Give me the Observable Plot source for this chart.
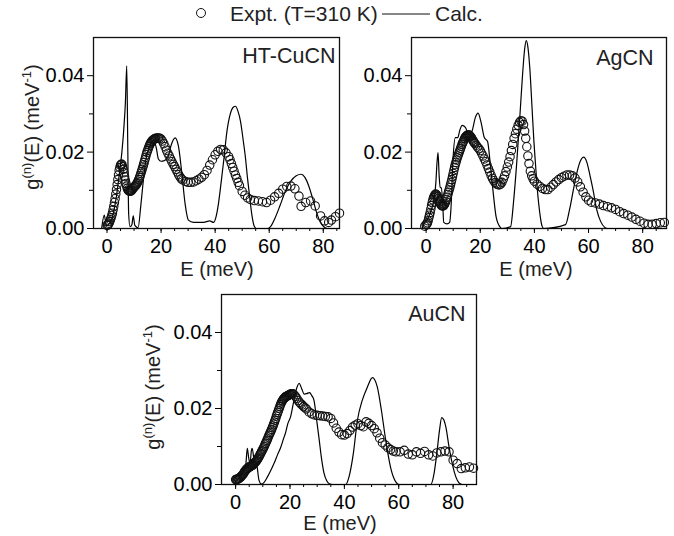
<!DOCTYPE html>
<html><head><meta charset="utf-8">
<script src="https://cdn.jsdelivr.net/npm/d3@7"></script>
<script src="https://cdn.jsdelivr.net/npm/@observablehq/plot@0.6"></script>
<style>
body{margin:0;background:#fff}
#fig{position:relative;width:674px;height:536px;overflow:hidden;font-family:"Liberation Sans",Arial,sans-serif;background:#fff}
#fig > svg{position:absolute}
</style></head><body><div id="fig"></div>
<script>
// ---------- data: [E (meV), g(E) (1/meV)] ----------
const cuExpt = [[0,0.0008],[0.5,0.0011],[1,0.0018],[1.5,0.0028],[2,0.004],[2.5,0.0058],[3,0.0078],[3.5,0.0102],[4,0.0128],[4.5,0.0152],[5,0.0166],[5.5,0.0168],[6,0.0155],[6.5,0.0136],[7,0.0118],[7.5,0.0105],[8,0.0099],[8.5,0.0098],[9,0.0099],[9.5,0.0104],[10,0.0108],[10.5,0.0112],[11,0.0117],[11.5,0.0124],[12,0.0133],[12.5,0.0144],[13,0.0155],[13.5,0.0167],[14,0.018],[14.5,0.0193],[15,0.0204],[15.5,0.0214],[16,0.0222],[16.5,0.0228],[17,0.0232],[17.5,0.0234],[18,0.0236],[18.5,0.0237],[19,0.0237],[19.5,0.0236],[20,0.0234],[20.5,0.0229],[21,0.0222],[21.5,0.0214],[22,0.0205],[22.5,0.0197],[23,0.019],[23.5,0.0182],[24,0.0175],[24.5,0.0168],[25,0.0162],[25.5,0.0155],[26,0.0148],[26.5,0.0141],[27,0.0135],[27.5,0.013],[28,0.0127],[29,0.0123],[30,0.0121],[31,0.0121],[32,0.0122],[33,0.0125],[34,0.0129],[35,0.0134],[36,0.0141],[37,0.0152],[38,0.0166],[39,0.018],[40,0.0193],[41,0.0202],[42,0.0207],[43,0.0206],[44,0.0198],[45,0.0188],[45.5,0.018],[46,0.017],[46.5,0.016],[47,0.015],[47.5,0.014],[48,0.0131],[48.5,0.0121],[49,0.0112],[50,0.0097],[51,0.0087],[52,0.008],[53,0.0076],[54.5,0.0073],[56,0.0072],[57.5,0.007],[59,0.0068],[60.5,0.0074],[62,0.0083],[63.5,0.0092],[65,0.0103],[66.5,0.011],[68,0.0111],[69.5,0.0104],[71,0.0085],[71.8,0.0058],[73.5,0.0068],[75.3,0.0072],[77,0.0059],[79,0.0033],[80.5,0.002],[82,0.0016],[83,0.0022],[84.5,0.0031],[86,0.004]];
const cuExptLow = [[0.25,0.0009],[0.75,0.0014],[1.25,0.0023],[1.75,0.0034],[2.25,0.0049],[2.75,0.0068],[3.25,0.009],[3.75,0.0115],[4.25,0.014],[4.75,0.016],[5.25,0.0168],[5.75,0.0162],[6.25,0.0146],[6.75,0.0127],[7.25,0.0111],[7.75,0.0101],[8.25,0.0098],[8.75,0.0098],[9.25,0.0101],[9.75,0.0106],[10.25,0.011],[10.75,0.0114],[11.25,0.012],[11.75,0.0128],[12.25,0.0138],[12.75,0.0149],[13.25,0.0161],[13.75,0.0173],[14.25,0.0186],[14.75,0.0199],[15.25,0.0209],[15.75,0.0218],[16.25,0.0225],[16.75,0.023],[17.25,0.0233],[17.75,0.0235]];
const cuCalc = [[-2,0],[-1,0.0035],[-0.3,0.0008],[0.5,0.001],[1.5,0.002],[2.5,0.0045],[3.5,0.0085],[4.5,0.014],[5.5,0.02],[6.2,0.026],[6.8,0.033],[7.3,0.0426],[7.7,0.02],[8,0.004],[8.5,0.0005],[9.2,0.001],[9.7,0.0033],[10.3,0.0008],[11.5,0.0002],[12.5,0.006],[13.5,0.013],[14.5,0.0185],[15.5,0.021],[16.5,0.0226],[17.3,0.023],[18.2,0.0212],[19,0.0182],[20,0.0176],[21,0.0177],[22.5,0.0186],[23.8,0.022],[25.2,0.0237],[26.4,0.0216],[27.6,0.015],[28.9,0.0064],[30.1,0.0022],[32,0.0016],[35.7,0.0016],[38,0.002],[39.4,0.0016],[40.3,0.003],[41.2,0.0064],[42.2,0.012],[43.2,0.018],[44.4,0.0256],[45.6,0.03],[46.8,0.0318],[47.5,0.032],[48.4,0.0308],[49.4,0.028],[50.3,0.0235],[51.2,0.0186],[52,0.013],[52.8,0.0081],[53.6,0.0035],[54.4,0.0007],[55.2,0],[59.5,0],[60.5,0.0005],[62,0.0025],[64,0.006],[66,0.0098],[68,0.0124],[70,0.0138],[71.8,0.0142],[73.2,0.0134],[74.6,0.0112],[76,0.008],[77.4,0.0045],[78.8,0.0018],[80.3,0.0004],[81.5,0],[86,0]];

const agExpt = [[-0.5,0.0006],[0,0.001],[0.5,0.0015],[1,0.0028],[1.5,0.0042],[2,0.006],[2.5,0.0075],[3,0.0085],[3.5,0.009],[4,0.0087],[4.5,0.0078],[5,0.0069],[5.5,0.0062],[6,0.0059],[6.5,0.006],[7,0.0066],[7.5,0.0076],[8,0.0089],[8.5,0.0101],[9,0.0114],[9.5,0.0128],[10,0.0144],[10.5,0.016],[11,0.0173],[11.5,0.0185],[12,0.0195],[12.5,0.0205],[13,0.0215],[13.5,0.0224],[14,0.0232],[14.5,0.0239],[15,0.0243],[15.5,0.0245],[16,0.0244],[16.5,0.024],[17,0.0234],[17.5,0.0228],[18,0.0223],[18.5,0.0218],[19,0.0213],[19.5,0.0209],[20,0.0204],[20.5,0.0197],[21,0.019],[21.5,0.0182],[22,0.0175],[22.5,0.0166],[23,0.0157],[23.5,0.0148],[24,0.0139],[24.5,0.0131],[25,0.0125],[25.5,0.012],[26,0.0117],[26.5,0.0115],[27,0.0114],[27.5,0.0116],[28,0.0121],[28.5,0.0129],[29,0.0138],[29.5,0.0149],[30,0.0161],[30.5,0.0174],[31,0.0188],[31.5,0.0204],[32,0.022],[32.5,0.0236],[33,0.0248],[33.5,0.026],[34,0.027],[34.5,0.0278],[35,0.0282],[35.5,0.0281],[36,0.0272],[36.4,0.0255],[36.8,0.0236],[37.2,0.0214],[37.6,0.019],[38,0.017],[38.5,0.015],[39,0.0138],[39.5,0.013],[40,0.0124],[41,0.0116],[42,0.011],[43,0.0105],[44,0.0102],[45,0.0102],[46,0.0108],[47,0.0115],[48,0.0122],[49,0.0128],[50,0.0133],[51,0.0137],[52,0.014],[53,0.014],[54,0.0138],[55,0.0132],[56,0.0122],[57,0.0109],[58,0.0095],[59,0.0083],[60,0.0074],[61,0.0069],[62.5,0.0067],[64,0.0064],[65.5,0.006],[67,0.0057],[68.5,0.0054],[70,0.005],[71.5,0.0044],[73,0.0039],[74.5,0.0035],[76,0.003],[77.5,0.0024],[79,0.0019],[80.5,0.0014],[82,0.0011],[83.5,0.0011],[85,0.0013],[86.5,0.0015],[88,0.0016]];
const agExptLow = [[0.25,0.0012],[0.75,0.002],[1.25,0.0035],[1.75,0.0051],[2.25,0.0068],[2.75,0.0081],[3.25,0.0088],[3.75,0.0089],[4.25,0.0083],[4.75,0.0073],[5.25,0.0065],[5.75,0.006],[6.25,0.0059],[6.75,0.0063],[7.25,0.0071],[7.75,0.0082],[8.25,0.0095],[8.75,0.0107],[9.25,0.0121],[9.75,0.0136],[10.25,0.0152],[10.75,0.0167],[11.25,0.0179],[11.75,0.019],[12.25,0.02],[12.75,0.021],[13.25,0.022],[13.75,0.0228],[14.25,0.0236],[14.75,0.0241],[15.25,0.0244],[15.75,0.0245],[16.25,0.0242],[16.75,0.0237],[17.25,0.0231],[17.75,0.0225]];
const agCalc = [[-1.5,0],[-0.9,0.001],[0.5,0.0025],[1.5,0.004],[2.2,0.0055],[3,0.008],[3.6,0.012],[4,0.017],[4.4,0.0199],[4.8,0.014],[5.2,0.0107],[5.6,0.0107],[6.1,0.0072],[6.5,0.0016],[7.7,0.0012],[8.7,0.0016],[9.2,0.0055],[9.9,0.0177],[10.8,0.0238],[11.7,0.0238],[12.4,0.0256],[13.3,0.027],[14.5,0.0265],[15.7,0.0245],[17,0.0256],[18.2,0.0291],[19.2,0.0302],[20.3,0.0278],[21.5,0.0238],[22.7,0.0228],[23.7,0.0169],[24.7,0.0099],[25.9,0.0029],[27.4,0.0003],[28,0],[31.2,0.0005],[32.3,0.007],[33.5,0.0175],[34.6,0.029],[35.6,0.04],[36.4,0.047],[37,0.0492],[37.6,0.0475],[38.3,0.042],[39.1,0.032],[39.8,0.023],[40.4,0.0169],[41,0.011],[41.6,0.0064],[42.2,0.003],[42.8,0.0007],[43.5,0],[51.5,0.001],[53,0.005],[54.5,0.0105],[56,0.0155],[57.2,0.018],[58.2,0.0187],[59.3,0.0175],[60.5,0.014],[61.7,0.01],[63,0.005],[64.5,0.0018],[66,0.0003],[67,0],[88.8,0]];

const auExpt = [[0,0.0013],[0.5,0.0014],[1,0.0015],[1.5,0.0018],[2,0.0021],[2.5,0.0025],[3,0.003],[3.5,0.0036],[4,0.004],[4.5,0.0043],[5,0.0046],[5.5,0.0048],[6,0.005],[6.5,0.0053],[7,0.0057],[7.5,0.0061],[8,0.0066],[8.5,0.0072],[9,0.0079],[9.5,0.0086],[10,0.0093],[10.5,0.01],[11,0.0108],[11.5,0.0116],[12,0.0125],[12.5,0.0133],[13,0.0141],[13.5,0.015],[14,0.0159],[14.5,0.0169],[15,0.018],[15.5,0.019],[16,0.02],[16.5,0.021],[17,0.0218],[17.5,0.0224],[18,0.0228],[18.5,0.0231],[19,0.0233],[19.5,0.0235],[20,0.0237],[20.5,0.0239],[21,0.0239],[21.5,0.0236],[22,0.0232],[22.5,0.0227],[23,0.0221],[23.5,0.0216],[24,0.0212],[24.5,0.0209],[25,0.0205],[25.5,0.0202],[26,0.0199],[27,0.0191],[28,0.0186],[29,0.0183],[30,0.0182],[31,0.0181],[32,0.018],[33,0.0179],[34,0.0178],[35,0.0174],[36,0.0162],[37,0.0148],[38,0.0138],[39,0.0131],[40,0.013],[41,0.0134],[42,0.0142],[43,0.0151],[44,0.0156],[45,0.016],[46,0.0155],[47,0.0152],[48,0.0165],[49,0.0161],[50,0.0155],[51,0.0147],[52,0.0136],[53,0.0122],[54,0.011],[55,0.0104],[56,0.0097],[57,0.0092],[58,0.0088],[59,0.0086],[60.5,0.0086],[62,0.009],[63.5,0.008],[65,0.0078],[66.5,0.0086],[68,0.0082],[69.5,0.0087],[71,0.0078],[72.5,0.0075],[74,0.0083],[75.5,0.0086],[77,0.0088],[78.5,0.0086],[80,0.0064],[81.5,0.0055],[83,0.0042],[84.5,0.0044],[86,0.0046],[87.5,0.0043]];
const auExptLow = [[0.25,0.0013],[0.75,0.0014],[1.25,0.0016],[1.75,0.0019],[2.25,0.0023],[2.75,0.0027],[3.25,0.0033],[3.75,0.0038],[4.25,0.0042],[4.75,0.0045],[5.25,0.0047],[5.75,0.0049],[6.25,0.0051],[6.75,0.0055],[7.25,0.0059],[7.75,0.0063],[8.25,0.0069],[8.75,0.0075],[9.25,0.0082],[9.75,0.0089],[10.25,0.0096],[10.75,0.0104],[11.25,0.0112],[11.75,0.012],[12.25,0.0129],[12.75,0.0137],[13.25,0.0145],[13.75,0.0154],[14.25,0.0164],[14.75,0.0174],[15.25,0.0185],[15.75,0.0195],[16.25,0.0205],[16.75,0.0214],[17.25,0.0221],[17.75,0.0226],[18.25,0.023],[18.75,0.0232],[19.25,0.0234],[19.75,0.0236],[20.25,0.0238],[20.75,0.0239]];
const auCalc = [[-0.5,0],[0,0.0007],[1,0.0015],[2,0.0025],[3,0.0038],[3.7,0.005],[4.3,0.0095],[4.8,0.007],[5.3,0.0055],[5.8,0.009],[6.1,0.0095],[6.8,0.0064],[7.7,0.0055],[8.6,0.0011],[9.5,0.0001],[10.4,0.0005],[11.7,0.002],[13,0.0038],[14.1,0.0055],[15.4,0.0078],[16.6,0.0098],[17.6,0.012],[18.4,0.0137],[19.2,0.016],[20.2,0.0178],[21.2,0.0213],[22.3,0.025],[23.4,0.0266],[24.3,0.0252],[25.2,0.0238],[26.1,0.0239],[27.2,0.0242],[28,0.0234],[28.8,0.0222],[29.8,0.017],[30.7,0.012],[31.6,0.0068],[32.5,0.003],[33.5,0.001],[34.5,0.0002],[35.5,0],[40.5,0],[41.7,0.002],[43.3,0.0082],[44.8,0.0169],[46.6,0.0222],[48.5,0.0257],[50.3,0.0281],[52.1,0.0257],[53.6,0.0196],[55.2,0.0117],[57.1,0.0042],[58.9,0.0007],[60.1,0],[71.8,0],[73,0.0029],[74,0.0082],[75,0.0143],[75.8,0.0176],[76.6,0.017],[77.3,0.0152],[78.5,0.0099],[79.8,0.0051],[81,0.002],[82.2,0.0004],[83.4,0],[88.6,0]];

const panelNames = ["HT-CuCN", "AgCN", "AuCN"];
const xMajorTicks = [0, 20, 40, 60, 80];
const xMinorTicks = d3.range(0, 90, 5);
const yMajorTicks = [0, 0.02, 0.04];
const yMinorTicks = [0.01, 0.03];
const yDomain = [0, 0.05];
const xLabel = "E (meV)";
const legendExpt = "Expt. (T=310 K)";
const legendCalc = "Calc.";

const FONT = "Liberation Sans, Arial, Helvetica, sans-serif";
const fig = document.getElementById("fig");

function panel(o) {
  const toObj = a => a.map(([E, g]) => ({E, g})).sort((a, b) => a.E - b.E);
  const svg = Plot.plot({
    width: o.width, height: o.height,
    marginLeft: o.ml, marginRight: o.mr, marginTop: o.mt, marginBottom: o.mb,
    style: {fontFamily: FONT, fontSize: "20px", color: "black", background: "transparent", overflow: "visible"},
    x: {domain: o.xDomain},
    y: {domain: yDomain},
    marks: [
      Plot.axisX(xMinorTicks, {tickSize: 3, tickFormat: () => "", label: null, strokeWidth: 1}),
      Plot.axisX(xMajorTicks, {tickSize: 5, tickPadding: 5, label: null, fontSize: 20, strokeWidth: 1}),
      Plot.axisY(yMinorTicks, {tickSize: 4, tickFormat: () => "", label: null, strokeWidth: 1}),
      Plot.axisY(yMajorTicks, {tickSize: 6, tickPadding: 3, tickFormat: d3.format(".2f"), label: null, fontSize: 20, strokeWidth: 1}),
      Plot.frame({stroke: "#111", strokeWidth: 1.3}),
      Plot.line(toObj(o.calc), {x: "E", y: "g", curve: "monotone-x", stroke: "black", strokeWidth: 1.2}),
      Plot.dot(toObj(o.expt), {x: "E", y: "g", r: 4.2, stroke: "#111", fill: "none", strokeWidth: 1.1}),
      Plot.text([o.name], {text: d => d, frameAnchor: "top-right", textAnchor: "end", lineAnchor: "top", dx: o.ndx, dy: o.ndy, fontSize: 21.5, fill: "#222"})
    ]
  });
  svg.style.left = o.left + "px";
  svg.style.top = o.top + "px";
  const s = d3.select(svg);
  s.append("text").attr("x", o.xlx).attr("y", o.xly).attr("text-anchor", "middle")
    .attr("font-size", 20).attr("fill", "#222").text(xLabel);
  if (o.ylx != null) {
    const t = s.append("text").attr("transform", `translate(${o.ylx},${o.yly}) rotate(-90)`)
      .attr("text-anchor", "middle").attr("font-size", 20).attr("fill", "#222");
    t.append("tspan").text("g");
    t.append("tspan").attr("font-size", 13).attr("dy", -8).text("(n)");
    t.append("tspan").attr("dy", 8).text("(E) (meV");
    t.append("tspan").attr("font-size", 13).attr("dy", -8).text("-1");
    t.append("tspan").attr("dy", 8).text(")");
  }
  fig.appendChild(svg);
}

// HT-CuCN (top left)
panel({expt: cuExpt.concat(cuExptLow), calc: cuCalc, name: panelNames[0], xDomain: [-5, 86],
  left: 0, top: 30, width: 345, height: 256, ml: 93, mr: 6, mt: 7, mb: 58,
  ndx: -4, ndy: 10, xlx: 217, xly: 246, ylx: 39, yly: 97});
// AgCN (top right)
panel({expt: agExpt.concat(agExptLow), calc: agCalc, name: panelNames[1], xDomain: [-5.4, 88.8],
  left: 345, top: 30, width: 329, height: 256, ml: 66, mr: 8, mt: 7, mb: 58,
  ndx: -13, ndy: 12, xlx: 191, xly: 246, ylx: null});
// AuCN (bottom)
panel({expt: auExpt.concat(auExptLow), calc: auCalc, name: panelNames[2], xDomain: [-5.2, 88.6],
  left: 130, top: 284, width: 360, height: 252, ml: 91, mr: 14, mt: 10, mb: 52,
  ndx: -11, ndy: 11, xlx: 210, xly: 246, ylx: 30, yly: 103});

// legend
const lg = d3.create("svg").attr("width", 674).attr("height", 30)
  .style("left", "0px").style("top", "0px").style("font-family", FONT);
lg.append("circle").attr("cx", 201).attr("cy", 13).attr("r", 4.5).attr("fill", "none").attr("stroke", "#111").attr("stroke-width", 1);
lg.append("text").attr("x", 230).attr("y", 21).attr("font-size", 21).attr("fill", "#222").text(legendExpt);
lg.append("line").attr("x1", 382).attr("x2", 430).attr("y1", 14).attr("y2", 14).attr("stroke", "#111").attr("stroke-width", 1);
lg.append("text").attr("x", 435).attr("y", 21).attr("font-size", 21).attr("fill", "#222").text(legendCalc);
fig.appendChild(lg.node());
</script>
</body></html>
